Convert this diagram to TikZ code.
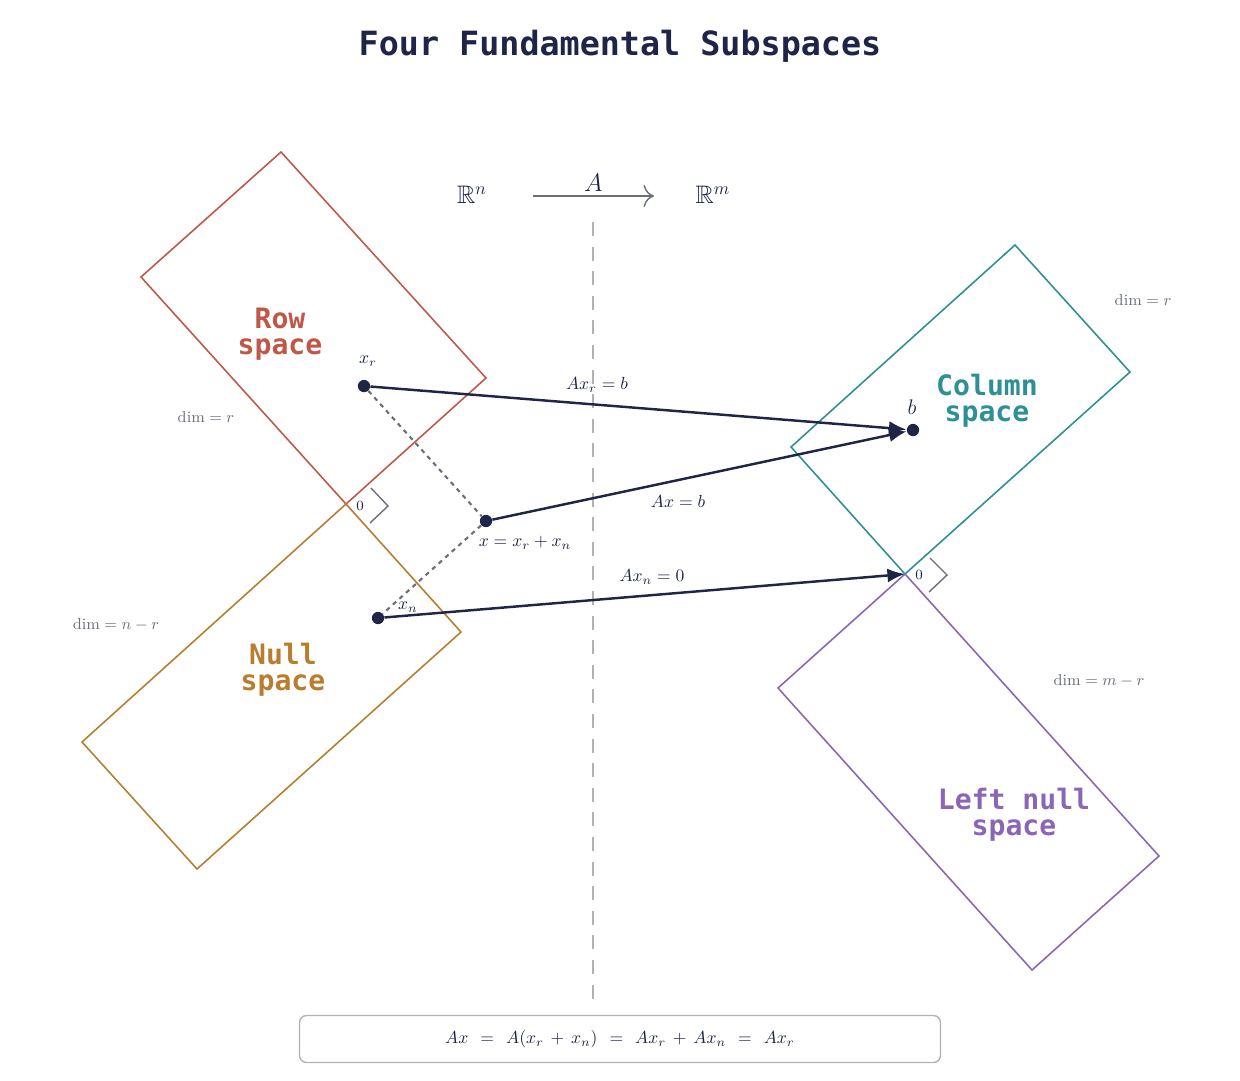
\documentclass[tikz,border=0pt]{standalone}
\usepackage{fontspec}
\usepackage{amssymb}
\newfontfamily\monob[BoldFont={DejaVu Sans Mono Bold}]{DejaVu Sans Mono}
\usetikzlibrary{arrows.meta}
\definecolor{navy}{HTML}{1E2547}
\definecolor{rowc}{HTML}{C0584A}
\definecolor{nullc}{HTML}{B87D2E}
\definecolor{colc}{HTML}{2E8F96}
\definecolor{leftc}{HTML}{8A66B5}
\definecolor{gr}{HTML}{6B6F7A}
\begin{document}
\begin{tikzpicture}[x=0.02cm,y=-0.02cm,
  sp/.style={line width=0.9pt},
  lab/.style={font=\monob\bfseries\fontsize{16}{15}\selectfont,align=center},
  dimt/.style={text=gr,font=\small},
  vec/.style={navy,line width=1.4pt,-{Latex[length=10pt,width=8pt]}},
  dot/.style={circle,fill=navy,inner sep=0pt,minimum size=7pt},
  ra/.style={gr,line width=0.8pt}]
\useasboundingbox (0,0) rectangle (1240,1080);
\node[font=\monob\bfseries\fontsize{19}{20}\selectfont,text=navy] (title) at (620,46) {Four Fundamental Subspaces};
% spaces
\draw[sp,rowc] (281,152)--(486,378)--(346,504)--(141,277)--cycle;
\draw[sp,nullc] (346,504)--(461,632)--(197,869)--(82,742)--cycle;
\draw[sp,colc] (1015,245)--(1130,372)--(905,574)--(791,447)--cycle;
\draw[sp,leftc] (905,574)--(1159,856)--(1032,970)--(778,688)--cycle;
\node[lab,text=rowc] (rl) at (280,334) {Row\\space};
\node[lab,text=nullc] (nl) at (283,670) {Null\\space};
\node[lab,text=colc] (cl) at (987,401) {Column\\space};
\node[lab,text=leftc] (ll) at (1014,815) {Left null\\space};
\node[dimt] (d1) at (206,417) {$\dim = r$};
\node[dimt] (d2) at (116,625) {$\dim = n-r$};
\node[dimt] (d3) at (1143,300) {$\dim = r$};
\node[dimt] (d4) at (1099,681) {$\dim = m-r$};
% right angle marks
\draw[ra] (371,488)--(388,506)--(370,523);
\draw[ra] (930,558)--(947,575)--(929,592);
\node[font=\footnotesize,text=navy] (z1) at (360,506) {$0$};
\node[font=\footnotesize,text=navy] (z2) at (919,575) {$0$};
% header
\node[font=\Large,text=navy] (Rn) at (472,195) {$\mathbb{R}^n$};
\node[font=\Large,text=navy] (Rm) at (713,195) {$\mathbb{R}^m$};
\coordinate (a1) at (533,196); \coordinate (a2) at (654,196);
\draw[gr,-{To[length=6pt]},line width=0.8pt] (a1)--(a2) node[midway,above=-1pt,font=\Large,text=navy] {$A$};
\coordinate (v1) at (593,222); \coordinate (v2) at (593,1003);
\draw[gray!60,dash pattern=on 8pt off 6pt,line width=0.8pt] (v1)--(v2);
% points
\node[dot] (xr) at (364,386) {};
\node[dot] (x) at (486,521) {};
\node[dot] (xn) at (378,618) {};
\node[dot] (b) at (913,430) {};
\coordinate (o) at (905,574);
\node[text=navy] at (368,361) {$x_r$};
\node[text=navy] at (408,607) {$x_n$};
\node[text=navy] at (525,543) {$x = x_r + x_n$};
\node[text=navy,font=\large] at (912,407) {$b$};
\draw[gr,line width=1.2pt,dash pattern=on 2.5pt off 2.5pt] (xr)--(x)--(xn);
\draw[vec] (xr)--(b);
\draw[vec] (x)--(b);
\draw[vec] (xn)--(o);
\node[text=navy] at (597,385) {$Ax_r = b$};
\node[text=navy] at (678,501) {$Ax = b$};
\node[text=navy] at (652,577) {$Ax_n = 0$};
\node[draw=gray!60,rounded corners=4pt,line width=0.8pt,minimum width=456\pgflinewidth,text=navy,inner sep=0pt,minimum height=0.94cm,text width=9.04cm,align=center] (eq) at (620,1039) {$Ax = A(x_r + x_n) = Ax_r + Ax_n = Ax_r$};
\end{tikzpicture}
\end{document}
